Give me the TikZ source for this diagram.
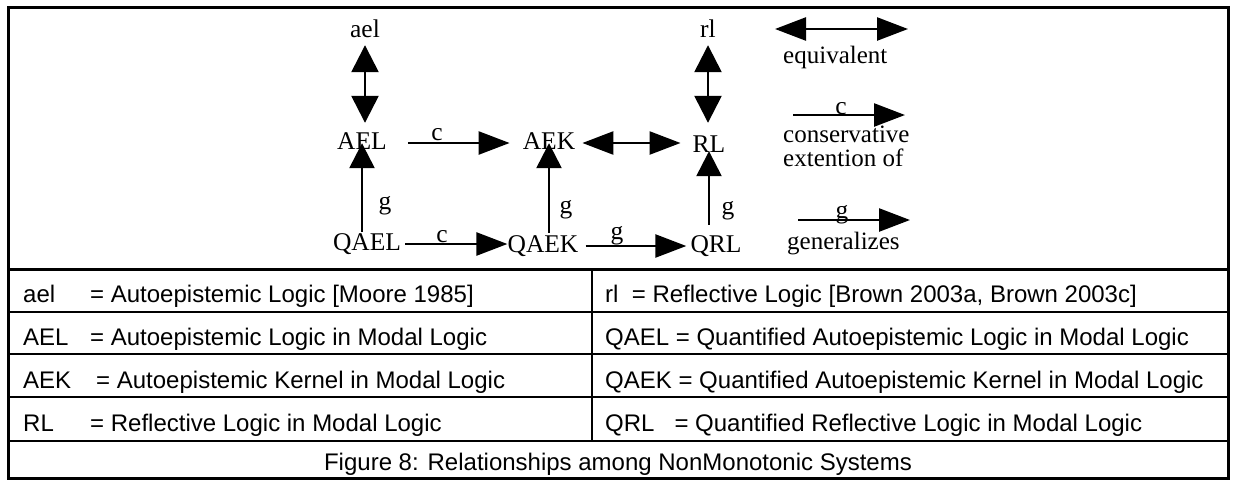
\documentclass[tikz,border=0pt]{standalone}
\usepackage{fontspec}
\setmainfont{Liberation Serif}
\newfontfamily\tabfont{Liberation Sans}
\usetikzlibrary{arrows.meta}
\begin{document}
\begin{tikzpicture}[x=1pt,y=-1pt,
  lab/.style={font=\fontsize{25.5}{24}\selectfont, inner sep=0pt, anchor=base},
  sys/.style={lab, text height=12pt, text depth=0pt},
  leg/.style={font=\fontsize{25}{24}\selectfont, inner sep=0pt, anchor=base west},
  tab/.style={font=\tabfont\fontsize{24}{28}\selectfont, inner sep=0pt, anchor=base west},
  frame/.style={line width=3pt},
  rule/.style={line width=2pt},
  heqv/.style={line width=2.5pt, {Triangle[length=31pt,width=23pt]}-{Triangle[length=31pt,width=23pt]}},
  veqv/.style={line width=2.5pt, {Triangle[length=27pt,width=27pt]}-{Triangle[length=27pt,width=27pt]}},
  himp/.style={line width=2.5pt, -{Triangle[length=31pt,width=23pt]}},
  vimp/.style={line width=2.5pt, -{Triangle[length=25pt,width=25pt]}}
]
\useasboundingbox (0,0) rectangle (1233,480);
% frame and table
\draw[frame] (8,7) rectangle (1228,478);
\draw[frame] (8,269) -- (1228,269);
\draw[rule] (8,312) -- (1228,312);
\draw[rule] (8,354) -- (1228,354);
\draw[rule] (8,397) -- (1228,397);
\draw[rule] (8,441) -- (1228,441);
\draw[rule] (592,269) -- (592,441);

% system nodes
\node[sys] (ael) at (365,37) {ael};
\node[sys] (rl) at (708,37) {rl};
\node[sys] (AEL) at (362,149) {AEL};
\node[sys] (AEK) at (549,149) {AEK};
\node[sys] (RL) at (709,152) {RL};
\node[sys] (QAEL) at (367,250) {QAEL};
\node[sys] (QAEK) at (543,252) {QAEK};
\node[sys] (QRL) at (716,252) {QRL};

% connectors
\draw[veqv, shorten <=8pt, shorten >=14pt] (ael.south) -- (ael.south |- AEL.north);
\draw[veqv, shorten <=8pt, shorten >=17pt] (rl.south) -- (rl.south |- RL.north);
\draw[himp, shorten <=21pt, shorten >=13pt] (AEL.east) -- (AEK.west |- AEL.east);
\draw[heqv, shorten <=7pt, shorten >=12pt] (AEK.east) -- (RL.west |- AEK.east);
\draw[vimp, shorten <=6pt, shorten >=-6pt] (QAEL.north -| AEL.south) -- (AEL.south);
\draw[vimp, shorten <=7pt, shorten >=-6pt] (QAEK.north -| AEK.south) -- (AEK.south);
\draw[vimp, shorten <=15pt, shorten >=-1pt] (QRL.north -| RL.south) -- (RL.south);
\draw[himp, shorten <=4pt, shorten >=0pt] (QAEL.east) -- (QAEK.west |- QAEL.east);
\draw[himp, shorten <=7pt, shorten >=4pt] (QAEK.east) -- (QRL.west |- QAEK.east);

% connector labels
\node[lab] (c1) at (437,140) {c};
\node[lab] (c2) at (442,242) {c};
\node[lab] (g1) at (385,209) {g};
\node[lab] (g2) at (566,213) {g};
\node[lab] (g3) at (728,214) {g};
\node[lab] (g4) at (617,239) {g};

% legend
\coordinate (le1) at (775,29);
\coordinate (le2) at (908,29);
\draw[heqv] (le1) -- (le2);
\node[leg] (leqv) at (783,63) {equivalent};
\coordinate (lc1) at (793,115);
\coordinate (lc2) at (905,115);
\draw[himp] (lc1) -- (lc2);
\node[lab] (lcl) at (841,114) {c};
\node[leg] (lcons) at (783,142) {conservative};
\node[leg] (lext) at (783,166) {extention of};
\coordinate (lg1) at (798,220);
\coordinate (lg2) at (910,220);
\draw[himp] (lg1) -- (lg2);
\node[lab] (lgl) at (842,218) {g};
\node[leg] (lgen) at (787,249) {generalizes};

% table text
\node[tab] (t1) at (23,302) {\makebox[67pt][l]{ael}= Autoepistemic Logic [Moore 1985]};
\node[tab] (t2) at (23,345) {\makebox[67pt][l]{AEL}= Autoepistemic Logic in Modal Logic};
\node[tab] (t3) at (23,388) {\makebox[73pt][l]{AEK}= Autoepistemic Kernel in Modal Logic};
\node[tab] (t4) at (23,431) {\makebox[67pt][l]{RL}= Reflective Logic in Modal Logic};
\node[tab] (t5) at (605,302) {rl\ \ = Reflective Logic [Brown 2003a, Brown 2003c]};
\node[tab] (t6) at (605,345) {QAEL = Quantified Autoepistemic Logic in Modal Logic};
\node[tab] (t7) at (605,388) {QAEK = Quantified Autoepistemic Kernel in Modal Logic};
\node[tab] (t8) at (605,431) {QRL\ \ \ = Quantified Reflective Logic in Modal Logic};
\node[tab, anchor=base] (cap) at (618,470) {Figure 8: Relationships among NonMonotonic Systems};
\end{tikzpicture}
\end{document}
